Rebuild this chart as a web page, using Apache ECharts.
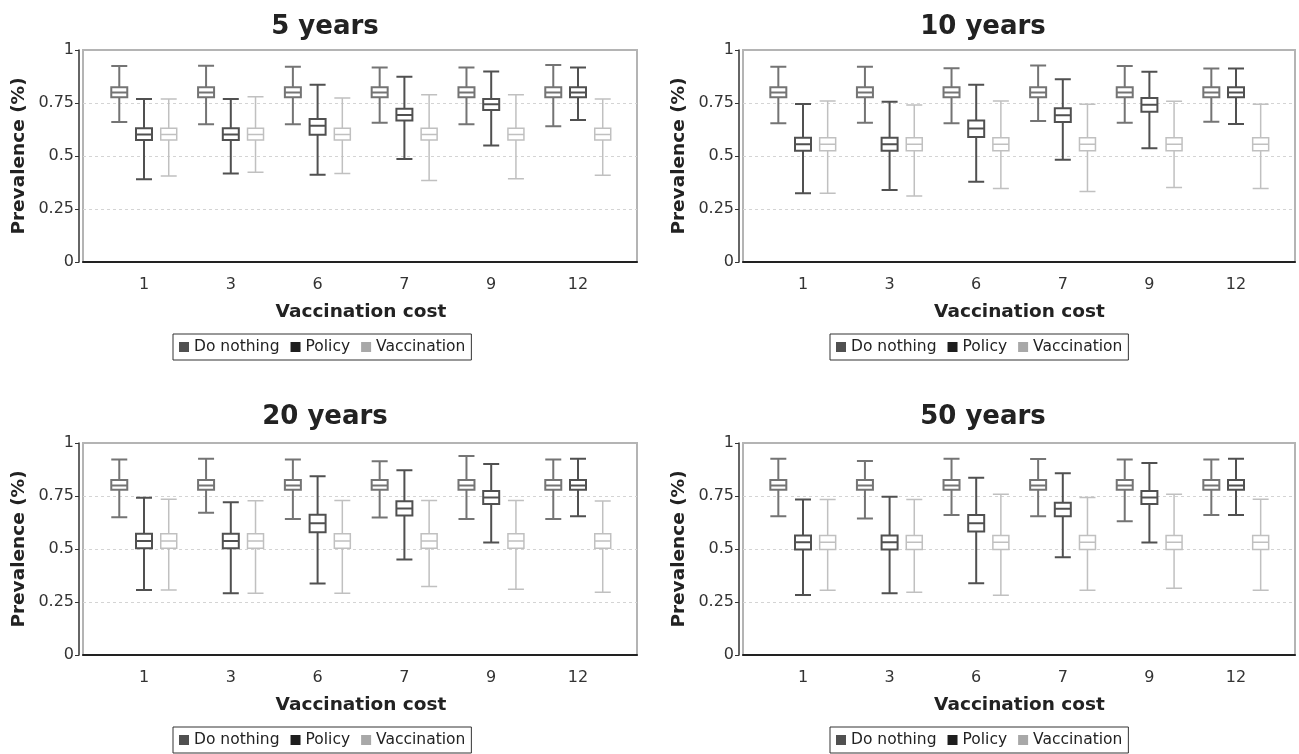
<!DOCTYPE html>
<html>
<head>
<meta charset="utf-8">
<script src="https://cdn.jsdelivr.net/npm/echarts@6/dist/echarts.min.js"></script>
<style>
  html, body { margin: 0; padding: 0; background: #fff; }
  #chart { width: 1299px; height: 754px; }
</style>
</head>
<body>
<div id="chart"></div>
<script>
// vaccination cost categories
const categories = ['1', '3', '6', '7', '9', '12']
const panelTitles = ['5 years', '10 years', '20 years', '50 years']
const seriesNames = ['Do nothing', 'Policy', 'Vaccination']

// [min, q1, median, q3, max]
const doNothing5 = [
  [0.66, 0.777, 0.80, 0.824, 0.925],
  [0.65, 0.777, 0.80, 0.824, 0.926],
  [0.65, 0.777, 0.80, 0.824, 0.921],
  [0.657, 0.777, 0.80, 0.824, 0.918],
  [0.65, 0.777, 0.80, 0.824, 0.918],
  [0.64, 0.777, 0.80, 0.824, 0.929]
]
const policy5 = [
  [0.39, 0.575, 0.602, 0.631, 0.769],
  [0.417, 0.575, 0.602, 0.631, 0.769],
  [0.412, 0.600, 0.643, 0.675, 0.836],
  [0.486, 0.667, 0.693, 0.723, 0.874],
  [0.549, 0.717, 0.744, 0.769, 0.898],
  [0.67, 0.777, 0.80, 0.824, 0.918]
]
const vaccination5 = [
  [0.406, 0.575, 0.602, 0.631, 0.769],
  [0.423, 0.575, 0.602, 0.631, 0.780],
  [0.417, 0.575, 0.602, 0.631, 0.774],
  [0.385, 0.575, 0.602, 0.631, 0.789],
  [0.393, 0.575, 0.602, 0.631, 0.789],
  [0.409, 0.575, 0.602, 0.631, 0.769]
]

const doNothing10 = [
  [0.654, 0.777, 0.80, 0.824, 0.921],
  [0.657, 0.777, 0.80, 0.824, 0.921],
  [0.654, 0.777, 0.80, 0.824, 0.914],
  [0.665, 0.777, 0.80, 0.824, 0.927],
  [0.657, 0.777, 0.80, 0.824, 0.924],
  [0.662, 0.777, 0.80, 0.824, 0.913]
]
const policy10 = [
  [0.324, 0.525, 0.555, 0.586, 0.745],
  [0.340, 0.525, 0.555, 0.586, 0.756],
  [0.379, 0.590, 0.630, 0.667, 0.836],
  [0.482, 0.660, 0.692, 0.725, 0.862],
  [0.537, 0.709, 0.742, 0.773, 0.897],
  [0.651, 0.777, 0.80, 0.824, 0.913]
]
const vaccination10 = [
  [0.324, 0.525, 0.555, 0.586, 0.759],
  [0.311, 0.525, 0.555, 0.586, 0.740],
  [0.347, 0.525, 0.555, 0.586, 0.760],
  [0.332, 0.525, 0.555, 0.586, 0.744],
  [0.352, 0.525, 0.555, 0.586, 0.758],
  [0.347, 0.525, 0.555, 0.586, 0.744]
]

const doNothing20 = [
  [0.650, 0.78, 0.80, 0.825, 0.922],
  [0.671, 0.78, 0.80, 0.825, 0.926],
  [0.641, 0.78, 0.80, 0.825, 0.922],
  [0.649, 0.78, 0.80, 0.825, 0.914],
  [0.641, 0.78, 0.80, 0.825, 0.939],
  [0.641, 0.78, 0.80, 0.825, 0.922]
]
const policy20 = [
  [0.307, 0.504, 0.538, 0.572, 0.742],
  [0.291, 0.504, 0.538, 0.572, 0.721],
  [0.337, 0.579, 0.622, 0.662, 0.843],
  [0.450, 0.658, 0.691, 0.725, 0.871],
  [0.531, 0.712, 0.743, 0.773, 0.901],
  [0.655, 0.78, 0.80, 0.825, 0.926]
]
const vaccination20 = [
  [0.307, 0.504, 0.538, 0.572, 0.735],
  [0.291, 0.504, 0.538, 0.572, 0.728],
  [0.291, 0.504, 0.538, 0.572, 0.729],
  [0.323, 0.504, 0.538, 0.572, 0.729],
  [0.310, 0.504, 0.538, 0.572, 0.729],
  [0.296, 0.504, 0.538, 0.572, 0.726]
]

const doNothing50 = [
  [0.655, 0.78, 0.80, 0.825, 0.926],
  [0.644, 0.78, 0.80, 0.825, 0.915],
  [0.660, 0.78, 0.80, 0.825, 0.926],
  [0.655, 0.78, 0.80, 0.825, 0.925],
  [0.631, 0.78, 0.80, 0.825, 0.922],
  [0.660, 0.78, 0.80, 0.825, 0.922]
]
const policy50 = [
  [0.283, 0.498, 0.532, 0.564, 0.733],
  [0.291, 0.498, 0.532, 0.564, 0.747],
  [0.339, 0.583, 0.622, 0.660, 0.836],
  [0.461, 0.655, 0.690, 0.718, 0.857],
  [0.531, 0.712, 0.743, 0.773, 0.906],
  [0.660, 0.78, 0.80, 0.825, 0.926]
]
const vaccination50 = [
  [0.305, 0.498, 0.532, 0.564, 0.733],
  [0.296, 0.498, 0.532, 0.564, 0.733],
  [0.282, 0.498, 0.532, 0.564, 0.758],
  [0.305, 0.498, 0.532, 0.564, 0.743],
  [0.315, 0.498, 0.532, 0.564, 0.758],
  [0.305, 0.498, 0.532, 0.564, 0.735]
]

const panelData = [
  [doNothing5, policy5, vaccination5],
  [doNothing10, policy10, vaccination10],
  [doNothing20, policy20, vaccination20],
  [doNothing50, policy50, vaccination50]
]

const legendColors = ['#505050', '#1e1e1e', '#a8a8a8']
const boxColors = ['#747474', '#505050', '#c0c0c0']
const boxLineWidths = [2, 2, 1.5]

// panel layout: frame box + inner band area for the categories
const panels = [
  { frameLeft: 83, frameWidth: 554, dataLeft: 100.6, dataWidth: 520.8, top: 50, titleTop: 9, center: 320 },
  { frameLeft: 743, frameWidth: 552, dataLeft: 759.7, dataWidth: 519.6, top: 50, titleTop: 9, center: 978 },
  { frameLeft: 83, frameWidth: 554, dataLeft: 100.6, dataWidth: 520.8, top: 443, titleTop: 399, center: 320 },
  { frameLeft: 743, frameWidth: 552, dataLeft: 759.7, dataWidth: 519.6, top: 443, titleTop: 399, center: 978 }
]
const plotHeight = 212

const chart = echarts.init(document.getElementById('chart'), null, { renderer: 'canvas' })

const option = {
  animation: false,
  textStyle: { fontFamily: 'DejaVu Sans' },
  title: [],
  legend: [],
  grid: [],
  xAxis: [],
  yAxis: [],
  series: []
}

panels.forEach((p, i) => {
  option.title.push({
    text: panelTitles[i],
    left: p.center,
    top: p.titleTop,
    textAlign: 'center',
    textStyle: { fontSize: 26, fontWeight: 'bold', color: '#222' }
  })

  option.legend.push({
    data: seriesNames.map((n, k) => ({ name: n, itemStyle: { color: legendColors[k], borderWidth: 0 } })),
    left: i % 2 === 0 ? 173 : 830,
    top: p.top + 284,
    icon: 'rect',
    itemWidth: 10,
    itemHeight: 10,
    itemGap: 11,
    padding: [5, 6],
    borderColor: '#333',
    borderWidth: 1,
    textStyle: { fontSize: 15.5, color: '#222' }
  })

  // frame grid (border, split lines, y axis, x axis line)
  option.grid.push({
    left: p.frameLeft,
    width: p.frameWidth,
    top: p.top,
    height: plotHeight,
    show: true,
    backgroundColor: '#fff',
    borderColor: '#b4b4b4',
    borderWidth: 2
  })
  // data grid
  option.grid.push({
    left: p.dataLeft,
    width: p.dataWidth,
    top: p.top,
    height: plotHeight
  })

  const fg = i * 2
  const dg = i * 2 + 1

  option.xAxis.push({
    gridIndex: fg,
    type: 'category',
    data: categories,
    offset: 5,
    axisLine: { show: true, lineStyle: { color: '#222', width: 2 } },
    axisTick: { show: false },
    axisLabel: { show: false },
    splitLine: { show: false }
  })
  option.xAxis.push({
    gridIndex: dg,
    type: 'category',
    data: categories,
    axisLine: { show: false },
    axisTick: { show: false },
    axisLabel: { fontSize: 16, color: '#333', margin: 15 },
    name: 'Vaccination cost',
    nameLocation: 'middle',
    nameGap: 41,
    nameTextStyle: { fontSize: 18.5, fontWeight: 'bold', color: '#222' }
  })

  option.yAxis.push({
    gridIndex: fg,
    type: 'value',
    min: 0,
    max: 1,
    interval: 0.25,
    offset: 4,
    axisLine: { show: true, lineStyle: { color: '#333', width: 1.5 } },
    axisTick: { show: true, length: 4, lineStyle: { color: '#333' } },
    axisLabel: { fontSize: 16, color: '#333', margin: 5 },
    splitLine: {
      show: true,
      showMinLine: false,
      showMaxLine: false,
      lineStyle: { color: '#d4d4d4', type: [3, 3], width: 1 }
    },
    name: 'Prevalence (%)',
    nameLocation: 'middle',
    nameGap: 50,
    nameTextStyle: { fontSize: 18.5, fontWeight: 'bold', color: '#222' }
  })
  option.yAxis.push({
    gridIndex: dg,
    type: 'value',
    min: 0,
    max: 1,
    show: false
  })

  panelData[i].forEach((values, k) => {
    option.series.push({
      name: seriesNames[k],
      type: 'boxplot',
      xAxisIndex: dg,
      yAxisIndex: dg,
      boxWidth: [16, 16],
      data: values,
      itemStyle: { color: '#fff', borderColor: boxColors[k], borderWidth: boxLineWidths[k] },
      emphasis: { disabled: true }
    })
  })
})

chart.setOption(option)
</script>
</body>
</html>
